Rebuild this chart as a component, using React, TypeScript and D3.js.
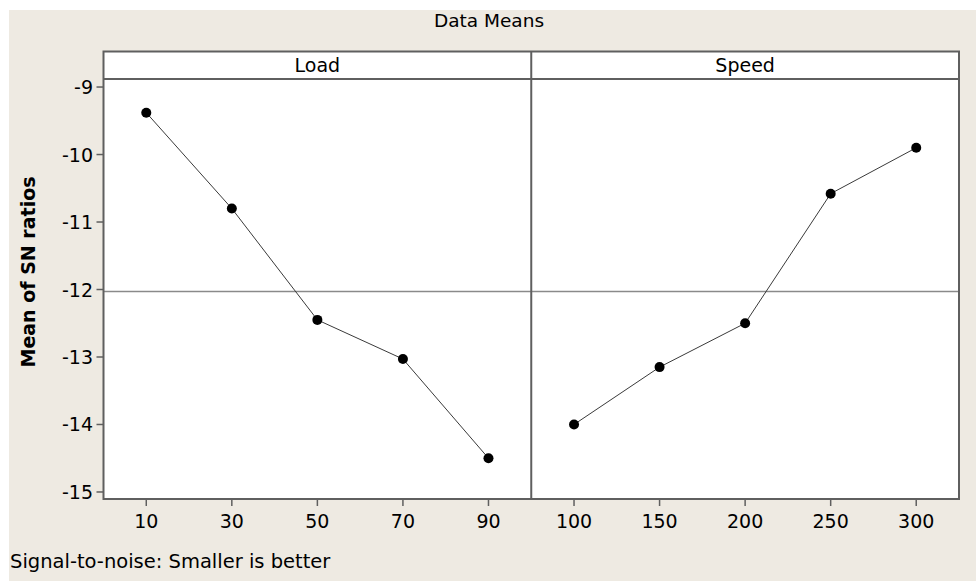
import React from "react";
import * as d3 from "d3";

const titleText = "Data Means";
const yLabel = "Mean of SN ratios";
const footnote = "Signal-to-noise: Smaller is better";

const factorNames = ["Load", "Speed"];
const loadLevels = ["10", "30", "50", "70", "90"];
const loadMeans = [-9.38, -10.8, -12.45, -13.03, -14.5];
const speedLevels = ["100", "150", "200", "250", "300"];
const speedMeans = [-14.0, -13.15, -12.5, -10.58, -9.9];
const yTicks = [-9, -10, -11, -12, -13, -14, -15];

const W = 976;
const H = 581;
const FONT = "'DejaVu Sans', Verdana, sans-serif";
const BG = "#EEEAE2";

const frameLeft = 103.5;
const frameRight = 959;
const stripTop = 51.5;
const plotTop = 79;
const plotBottom = 499;

export default function App() {
  const panels = [
    { name: factorNames[0], levels: loadLevels, values: loadMeans },
    { name: factorNames[1], levels: speedLevels, values: speedMeans },
  ];
  const panelW = (frameRight - frameLeft) / panels.length;

  const y = d3.scaleLinear().domain([-15.104, -8.881]).range([plotBottom, plotTop]);
  const overall = d3.mean([...loadMeans, ...speedMeans]) as number;
  const lineColor = "#5f5f5f";

  return (
    <svg
      width={W}
      height={H}
      style={{ position: "absolute", left: 0, top: 0, display: "block" }}
      fontFamily={FONT}
    >
      <rect x={0} y={0} width={W} height={H} fill="#ffffff" />
      <rect x={9} y={10} width={W - 9} height={H - 10} fill={BG} />

      <text x={489} y={27} textAnchor="middle" fontSize={18.5} fill="#000">
        {titleText}
      </text>

      {panels.map((p, i) => {
        const x0 = frameLeft + i * panelW;
        const x1 = x0 + panelW;
        const x = d3.scalePoint<string>().domain(p.levels).range([x0, x1]).padding(0.5);
        const line = d3
          .line<number>()
          .x((_, j) => x(p.levels[j]) as number)
          .y((d) => y(d));
        return (
          <g key={p.name}>
            <rect x={x0} y={stripTop} width={panelW} height={plotBottom - stripTop} fill="#ffffff" />
            <line x1={x0} x2={x1} y1={y(overall)} y2={y(overall)} stroke="#8a8a8a" strokeWidth={1.6} />
            <path d={line(p.values) || ""} fill="none" stroke="#3a3a3a" strokeWidth={1} />
            {p.values.map((v, j) => (
              <circle key={j} cx={x(p.levels[j])} cy={y(v)} r={5} fill="#000" />
            ))}
            <text x={(x0 + x1) / 2} y={72} textAnchor="middle" fontSize={19} fill="#000">
              {p.name}
            </text>
            {p.levels.map((lv) => (
              <g key={lv}>
                <line
                  x1={x(lv)}
                  x2={x(lv)}
                  y1={plotBottom}
                  y2={plotBottom + 7}
                  stroke={lineColor}
                  strokeWidth={1.5}
                />
                <text x={x(lv)} y={528} textAnchor="middle" fontSize={19} fill="#000">
                  {lv}
                </text>
              </g>
            ))}
          </g>
        );
      })}

      {/* frame */}
      <rect
        x={frameLeft}
        y={stripTop}
        width={frameRight - frameLeft}
        height={plotBottom - stripTop}
        fill="none"
        stroke={lineColor}
        strokeWidth={2}
      />
      <line x1={frameLeft} x2={frameRight} y1={plotTop} y2={plotTop} stroke={lineColor} strokeWidth={2} />
      <line
        x1={frameLeft + panelW}
        x2={frameLeft + panelW}
        y1={stripTop}
        y2={plotBottom}
        stroke={lineColor}
        strokeWidth={2}
      />

      {yTicks.map((t) => (
        <g key={t}>
          <line x1={frameLeft - 7} x2={frameLeft} y1={y(t)} y2={y(t)} stroke={lineColor} strokeWidth={1.5} />
          <text x={93} y={y(t) + 7} textAnchor="end" fontSize={19} fill="#000">
            {t}
          </text>
        </g>
      ))}

      <text
        transform={`translate(35, 272) rotate(-90)`}
        textAnchor="middle"
        fontSize={19}
        fontWeight="bold"
        fill="#000"
      >
        {yLabel}
      </text>

      <text x={10} y={568} fontSize={19.5} fill="#000">
        {footnote}
      </text>
    </svg>
  );
}
